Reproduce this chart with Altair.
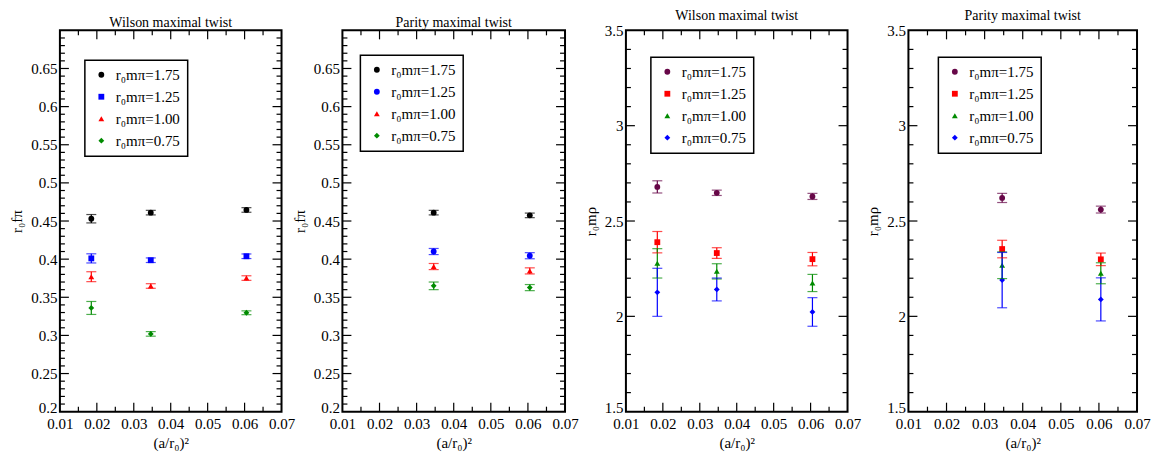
import altair as alt
import pandas as pd

FONT = "Liberation Serif"

# ---------------- data ----------------
labels = ["r₀mπ=1.75", "r₀mπ=1.25", "r₀mπ=1.00", "r₀mπ=0.75"]
x_wilson = [0.0185, 0.0346, 0.0605]
x_parity = [0.0346, 0.0605]

# Wilson maximal twist, r0 f_pi
wf_175 = [0.453, 0.461, 0.4645]
wf_175_err = [0.0055, 0.003, 0.003]
wf_125 = [0.401, 0.3986, 0.4038]
wf_125_err = [0.006, 0.003, 0.003]
wf_100 = [0.377, 0.3648, 0.3752]
wf_100_err = [0.0065, 0.003, 0.003]
wf_075 = [0.336, 0.302, 0.3297]
wf_075_err = [0.0085, 0.003, 0.0025]

# Parity maximal twist, r0 f_pi
pf_175 = [0.461, 0.4574]
pf_175_err = [0.003, 0.003]
pf_125 = [0.410, 0.4045]
pf_125_err = [0.004, 0.004]
pf_100 = [0.3903, 0.3846]
pf_100_err = [0.004, 0.004]
pf_075 = [0.365, 0.3627]
pf_075_err = [0.005, 0.004]

# Wilson maximal twist, r0 m_rho
wm_175 = [2.679, 2.648, 2.629]
wm_175_err = [0.032, 0.014, 0.016]
wm_125 = [2.389, 2.332, 2.300]
wm_125_err = [0.056, 0.028, 0.035]
wm_100 = [2.278, 2.236, 2.175]
wm_100_err = [0.077, 0.040, 0.045]
wm_075 = [2.126, 2.141, 2.023]
wm_075_err = [0.126, 0.060, 0.075]

# Parity maximal twist, r0 m_rho
pm_175 = [2.621, 2.560]
pm_175_err = [0.024, 0.018]
pm_125 = [2.353, 2.299]
pm_125_err = [0.046, 0.033]
pm_100 = [2.268, 2.226]
pm_100_err = [0.070, 0.055]
pm_075 = [2.190, 2.089]
pm_075_err = [0.145, 0.113]

# axis ticks
x_major = [0.01, 0.02, 0.03, 0.04, 0.05, 0.06, 0.07]
x_minor = [0.015, 0.025, 0.035, 0.045, 0.055, 0.065]
f_major = [0.2, 0.25, 0.3, 0.35, 0.4, 0.45, 0.5, 0.55, 0.6, 0.65]
f_minor = [round(0.2 + 0.01 * i, 2) for i in range(1, 50) if i % 5 != 0]
m_major = [1.5, 2.0, 2.5, 3.0, 3.5]
m_minor = [round(1.5 + 0.1 * i, 1) for i in range(1, 20) if i % 5 != 0]

col_f = ["#000000", "#0000ff", "#ff0000", "#008b00"]
col_m = ["#670748", "#ff0000", "#008b00", "#0000ff"]
shp_a = ["circle", "square", "triangle-up", "diamond"]
shp_b = ["circle", "circle", "triangle-up", "diamond"]

H = 382


def panel(xs, series, errs, colors, shapes, title, ytitle, ydom, ylabels,
          ymaj, ymin, yfmt, W, legx, legy):
    rows = []
    for lab, yv, ev in zip(labels, series, errs):
        for x, y, e in zip(xs, yv, ev):
            rows.append(dict(x=x, y=y, lo=y - e, hi=y + e, label=lab))
    df = pd.DataFrame(rows)
    xsc = alt.Scale(domain=[0.01, 0.07], nice=False, zero=False)
    ysc = alt.Scale(domain=ydom, nice=False, zero=False)
    xax = alt.Axis(values=x_major, format=".2~f", title="(a/r₀)²", labelFlush=False)
    yax = alt.Axis(values=ylabels, format=yfmt, title=ytitle, labelFlush=False,
                   labelOffset={"condition": {"test": "datum.index == 0", "value": -4},
                                "value": 0})
    leg = alt.Legend(title=None, orient="none", legendX=legx, legendY=legy)
    csc = alt.Scale(domain=labels, range=colors)
    ssc = alt.Scale(domain=labels, range=shapes)
    base = alt.Chart(df)

    def X(f):
        return alt.X(f, scale=xsc, axis=xax)

    def Y(f):
        return alt.Y(f, scale=ysc, axis=yax)

    col = alt.Color("label:N", scale=csc, legend=leg)

    pts = base.mark_point(filled=True, size=34, opacity=1).encode(
        x=X("x:Q"), y=Y("y:Q"), color=col,
        shape=alt.Shape("label:N", scale=ssc, legend=leg),
    )
    bars = base.mark_rule(strokeWidth=1.2).encode(
        x=X("x:Q"), y=Y("lo:Q"), y2="hi:Q", color=col)
    caps_lo = base.mark_tick(orient="horizontal", size=10, thickness=1.2).encode(
        x=X("x:Q"), y=Y("lo:Q"), color=col)
    caps_hi = base.mark_tick(orient="horizontal", size=10, thickness=1.2).encode(
        x=X("x:Q"), y=Y("hi:Q"), color=col)

    def yt(vals, length):
        d = alt.Chart(pd.DataFrame({"v": vals}))
        left = d.mark_rule(color="black", strokeWidth=1.2).encode(
            y=Y("v:Q"), x=alt.value(0), x2=alt.value(length))
        right = d.mark_rule(color="black", strokeWidth=1.2).encode(
            y=Y("v:Q"), x=alt.value(W), x2=alt.value(W - length))
        return [left, right]

    def xt(vals, length):
        d = alt.Chart(pd.DataFrame({"v": vals}))
        bot = d.mark_rule(color="black", strokeWidth=1.2).encode(
            x=X("v:Q"), y=alt.value(H), y2=alt.value(H - length))
        top = d.mark_rule(color="black", strokeWidth=1.2).encode(
            x=X("v:Q"), y=alt.value(0), y2=alt.value(length))
        return [bot, top]

    ticks = (yt([v for v in ymaj if v not in (ydom[0], ydom[1])], 9) + yt(ymin, 5)
             + xt(x_major[1:-1], 9) + xt(x_minor, 5))

    return alt.layer(pts, bars, caps_lo, caps_hi, *ticks).properties(
        width=W, height=H,
        title=alt.Title(title, font=FONT, fontSize=14, fontWeight="normal",
                        offset=0, anchor="middle", color="black"),
    )


p1 = panel(x_wilson, [wf_175, wf_125, wf_100, wf_075],
           [wf_175_err, wf_125_err, wf_100_err, wf_075_err],
           col_f, shp_a, "Wilson maximal twist", "r₀fπ", [0.2, 0.7], f_major,
           f_major, f_minor, ".2~f", 222, 25, 30)
p2 = panel(x_parity, [pf_175, pf_125, pf_100, pf_075],
           [pf_175_err, pf_125_err, pf_100_err, pf_075_err],
           col_f, shp_b, "Parity maximal twist", "r₀fπ", [0.2, 0.7], f_major,
           f_major, f_minor, ".2~f", 223, 18, 25)
p3 = panel(x_wilson, [wm_175, wm_125, wm_100, wm_075],
           [wm_175_err, wm_125_err, wm_100_err, wm_075_err],
           col_m, shp_a, "Wilson maximal twist", "r₀mρ", [1.5, 3.5], m_major,
           m_major, m_minor, ".1~f", 222, 25, 27)
p4 = panel(x_parity, [pm_175, pm_125, pm_100, pm_075],
           [pm_175_err, pm_125_err, pm_100_err, pm_075_err],
           col_m, shp_a, "Parity maximal twist", "r₀mρ", [1.5, 3.5], m_major,
           m_major, m_minor, ".1~f", 229, 30, 27)

chart = alt.hconcat(p1, p2, p3, p4, spacing=61, bounds="flush").resolve_scale(
    color="independent", shape="independent"
).resolve_legend(color="independent", shape="independent").properties(
    padding=0
).configure_view(
    stroke="black", strokeWidth=2
).configure_axis(
    ticks=False, domain=False, grid=False,
    labelFont=FONT, labelFontSize=15, labelColor="black", labelPadding=3,
    titleFont=FONT, titleFontSize=15, titleFontWeight="normal", titleColor="black",
).configure_axisY(
    titlePadding=6
).configure_axisX(
    titlePadding=4, labelPadding=5
).configure_legend(
    strokeColor="black", strokeWidth=1.5, fillColor="white", padding=7,
    labelFont=FONT, labelFontSize=15, labelColor="black", rowPadding=6,
    symbolSize=34, symbolStrokeWidth=0, symbolOffset=2, labelOffset=7,
    cornerRadius=0,
)

chart.save("out.html", embed_options={"renderer": "svg", "actions": False})
